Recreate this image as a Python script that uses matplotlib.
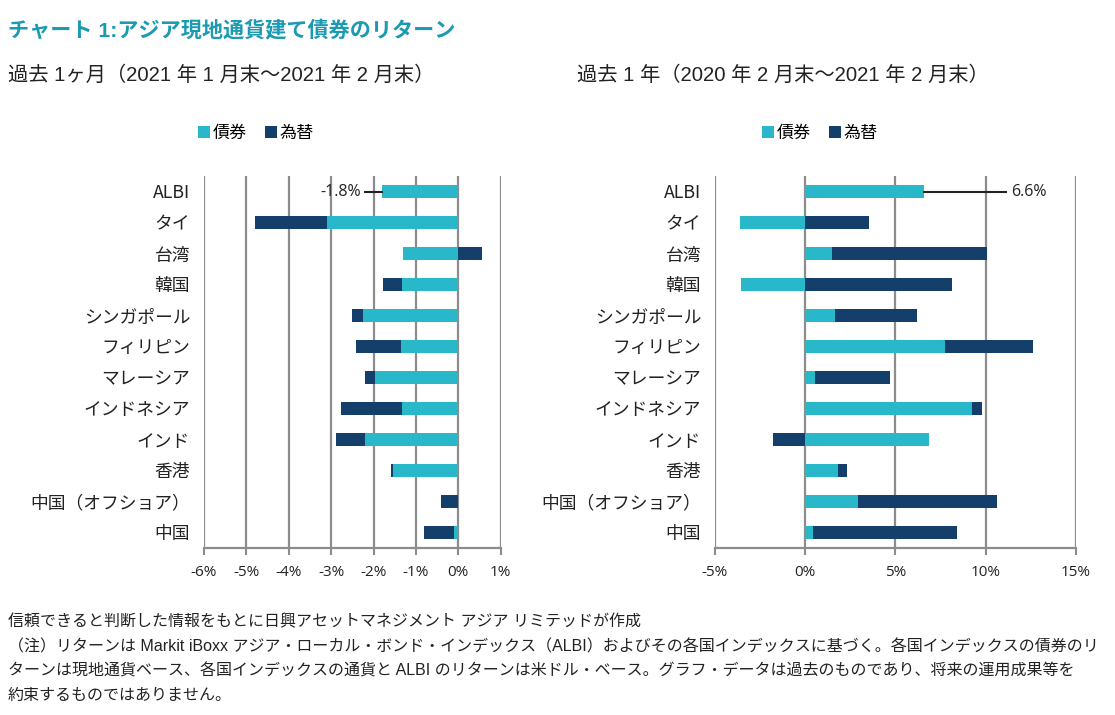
import numpy as np
import matplotlib
matplotlib.use("Agg")
import matplotlib.pyplot as plt

plt.rcParams['font.family'] = ['Noto Sans CJK JP', 'DejaVu Sans']

# data (% returns)
categories = ['ALBI', 'タイ', '台湾', '韓国', 'シンガポール', 'フィリピン', 'マレーシア',
              'インドネシア', 'インド', '香港', '中国（オフショア）', '中国']

bond_1m = [-1.8, -3.1, -1.3, -1.33, -2.24, -1.35, -1.97, -1.32, -2.19, -1.55, 0.0, -0.10]
fx_1m = [0.0, -1.7, 0.55, -0.45, -0.26, -1.06, -0.24, -1.44, -0.70, -0.04, -0.42, -0.71]

bond_1y = [6.58, -3.64, 1.48, -3.55, 1.63, 7.74, 0.57, 9.26, 6.84, 1.81, 2.94, 0.43]
fx_1y = [0.0, 3.55, 8.59, 8.13, 4.56, 4.92, 4.11, 0.55, -1.76, 0.50, 7.70, 8.00]

albi_1m = '-1.8%'
albi_1y = '6.6%'

C_BOND = '#29b8ca'
C_FX = '#143f6b'
C_GRID = '#8c8c8c'
TEAL = '#1c9ab2'

fig = plt.figure(figsize=(11.15, 7.15), dpi=100)

def draw(ax, bond, fx, xlim, ticks):
    bond = np.array(bond)
    fx = np.array(fx)
    y = np.arange(len(categories))
    fx_left = np.where(np.sign(fx) == np.sign(bond), bond, 0)
    ax.barh(y, bond, height=0.4, color=C_BOND, label='債券', zorder=3)
    ax.barh(y, fx, left=fx_left, height=0.4, color=C_FX, label='為替', zorder=3)
    ax.set_ylim(len(categories) - 0.5, -0.5)
    ax.set_xlim(*xlim)
    ax.set_xticks(ticks)
    ax.set_xticklabels([f'{t:.0f}%' for t in ticks], family=['Open Sans', 'DejaVu Sans'],
                       fontsize=11, color='#222222')
    ax.set_yticks(y)
    ax.set_yticklabels(categories, fontsize=12.8, color='#222222')
    ax.tick_params(axis='y', length=0, pad=10)
    ax.tick_params(axis='x', length=5, width=1.5, color=C_GRID, pad=7)
    ax.grid(axis='x', color=C_GRID, lw=1.6, zorder=1)
    for s in ['top', 'right', 'left']:
        ax.spines[s].set_visible(False)
    ax.spines['bottom'].set_color(C_GRID)
    ax.spines['bottom'].set_linewidth(1.6)

axL = fig.add_axes([204 / 1115, 1 - 548 / 715, 296.7 / 1115, 372 / 715])
draw(axL, bond_1m, fx_1m, (-6, 1), [-6, -5, -4, -3, -2, -1, 0, 1])
axL.plot([bond_1m[0], -2.2], [0, 0], color='#222222', lw=1.5, zorder=4)
axL.text(-2.3, 0, albi_1m, ha='right', va='center', fontsize=11.5,
         family=['Open Sans', 'DejaVu Sans'], color='#222222')

axR = fig.add_axes([715 / 1115, 1 - 548 / 715, 360.7 / 1115, 372 / 715])
draw(axR, bond_1y, fx_1y, (-5, 15), [-5, 0, 5, 10, 15])
axR.plot([bond_1y[0], 11.14], [0, 0], color='#222222', lw=1.5, zorder=4)
axR.text(11.4, 0, albi_1y, ha='left', va='center', fontsize=11.5,
         family=['Open Sans', 'DejaVu Sans'], color='#222222')

for ax, cx in [(axL, 256 / 1115), (axR, 820 / 1115)]:
    ax.legend(loc='center', bbox_to_anchor=(cx, 1 - 133 / 715), bbox_transform=fig.transFigure,
              ncol=2, frameon=False, handlelength=0.7, handleheight=0.7, handletextpad=0.2,
              columnspacing=1.0, fontsize=12.3)

fig.text(8 / 1115, 1 - 30 / 715, 'チャート 1:アジア現地通貨建て債券のリターン', fontsize=15.2,
         fontweight='bold', color=TEAL, va='center', ha='left',
         family=['Liberation Sans', 'Noto Sans CJK JP'])
fig.text(8 / 1115, 1 - 75 / 715, '過去 1ヶ月（2021 年 1 月末～2021 年 2 月末）', fontsize=14.6,
         color='#222222', va='center', ha='left', family=['Liberation Sans', 'Noto Sans CJK JP'])
fig.text(577 / 1115, 1 - 75 / 715, '過去 1 年（2020 年 2 月末～2021 年 2 月末）', fontsize=14.6,
         color='#222222', va='center', ha='left', family=['Liberation Sans', 'Noto Sans CJK JP'])

notes = [
    '信頼できると判断した情報をもとに日興アセットマネジメント アジア リミテッドが作成',
    '（注）リターンは Markit iBoxx アジア・ローカル・ボンド・インデックス（ALBI）およびその各国インデックスに基づく。各国インデックスの債券のリ',
    'ターンは現地通貨ベース、各国インデックスの通貨と ALBI のリターンは米ドル・ベース。グラフ・データは過去のものであり、将来の運用成果等を',
    '約束するものではありません。',
]
for i, line in enumerate(notes):
    fig.text(8 / 1115, 1 - (622 + 24.5 * i) / 715, line, fontsize=11.5, color='#222222',
             va='center', ha='left', family=['Liberation Sans', 'Noto Sans CJK JP'])

fig.savefig('out.png', dpi=100)
